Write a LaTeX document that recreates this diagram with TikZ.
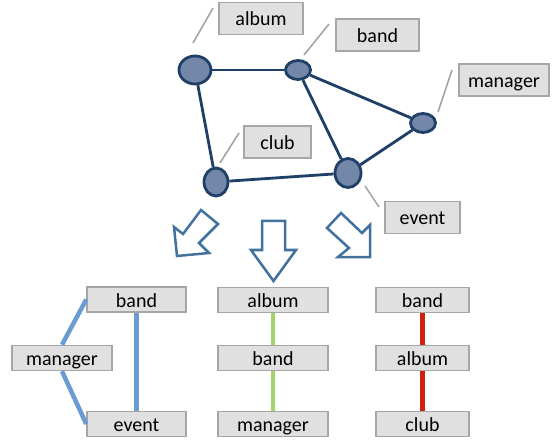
\documentclass[tikz,border=0pt]{standalone}
\usepackage{fontspec}
\setmainfont{Carlito}
\usetikzlibrary{shapes.geometric}
\definecolor{navy}{HTML}{1F3F66}
\definecolor{nodefill}{HTML}{7388A9}
\definecolor{boxfill}{HTML}{E0E0E0}
\definecolor{boxline}{HTML}{A6A6A6}
\definecolor{leadc}{HTML}{A0A0A0}
\definecolor{arrowc}{HTML}{41719C}
\definecolor{blueline}{HTML}{6A9BD2}
\definecolor{greenline}{HTML}{A2D46A}
\definecolor{redline}{HTML}{D22010}
\tikzset{
  gnode/.style={ellipse, draw=navy, fill=nodefill, line width=2.8pt, inner sep=0pt},
  gedge/.style={draw=navy, line width=2.8pt},
  lbl/.style={draw=boxline, fill=boxfill, line width=1.5pt, font=\fontsize{20}{24}\selectfont,
    inner sep=0pt, minimum height=32pt, text height=15pt, text depth=0pt},
  blbl/.style={lbl, minimum height=25pt},
  leadline/.style={draw=leadc, line width=1.5pt},
  bigarrow/.style={draw=arrowc, fill=white, line width=2.5pt, line join=miter},
  bluelink/.style={draw=blueline, line width=4.5pt},
  greenlink/.style={draw=greenline, line width=4.5pt},
  redlink/.style={draw=redline, line width=4.5pt}
}
\begin{document}
\begin{tikzpicture}[x=1pt,y=-1pt]
\useasboundingbox (0,0) rectangle (553,443);
% graph nodes
\node[gnode, minimum width=32pt, minimum height=28pt] (galbum) at (195,70) {};
\node[gnode, minimum width=25pt, minimum height=19pt] (gband) at (298,70) {};
\node[gnode, minimum width=25pt, minimum height=19pt] (gmanager) at (423,123) {};
\node[gnode, minimum width=26pt, minimum height=29pt] (gevent) at (348,173) {};
\node[gnode, minimum width=24pt, minimum height=28pt] (gclub) at (216,182) {};
\draw[gedge] (galbum) -- (gband);
\draw[gedge] (galbum) -- (gclub);
\draw[gedge] (gband) -- (gmanager);
\draw[gedge] (gband) -- (gevent);
\draw[gedge] (gmanager) -- (gevent);
\draw[gedge] (gclub) -- (gevent);
% labels
\node[lbl, minimum width=84pt] (lalbum) at (261,18.5) {album};
\node[lbl, minimum width=83pt] (lband) at (377.5,35) {band};
\node[lbl, minimum width=90pt] (lmanager) at (504,80) {manager};
\node[lbl, minimum width=67pt] (lclub) at (277.5,142) {club};
\node[lbl, minimum width=75pt] (levent) at (422.5,217.5) {event};
% leader lines
\coordinate (a1) at (213,8);   \coordinate (a2) at (193,43);
\coordinate (b1) at (329,24);  \coordinate (b2) at (304,55);
\coordinate (m1) at (452,70);  \coordinate (m2) at (438,112);
\coordinate (c1) at (239,133); \coordinate (c2) at (220,163);
\coordinate (e1) at (365,186); \coordinate (e2) at (379,207);
\draw[leadline] (a1) -- (a2);
\draw[leadline] (b1) -- (b2);
\draw[leadline] (m1) -- (m2);
\draw[leadline] (c1) -- (c2);
\draw[leadline] (e1) -- (e2);
% block arrows
\draw[bigarrow] (174,227) -- (183,234) -- (201,210) -- (218,224) -- (199,243) -- (209,253) -- (177,256) -- cycle;
\draw[bigarrow] (262,221) -- (285,221) -- (285,250) -- (296,250) -- (273.5,281) -- (251,250) -- (262,250) -- cycle;
\draw[bigarrow] (327,228) -- (341,213) -- (362,233) -- (370,225) -- (370,257) -- (338,257) -- (349,248) -- cycle;
% bottom left group
\node[blbl, minimum width=99pt] (lb1) at (136.5,299.5) {band};
\node[blbl, minimum width=100pt] (lm1) at (62,358) {manager};
\node[blbl, minimum width=99pt] (le1) at (136.5,424) {event};
\draw[bluelink] (lb1.south) -- (le1.north);
\draw[bluelink] (lm1.north) -- (lb1.west);
\draw[bluelink] (lm1.south) -- (le1.west);
% bottom middle group
\node[blbl, minimum width=110pt] (ma) at (273,300) {album};
\node[blbl, minimum width=110pt] (mb) at (273,358) {band};
\node[blbl, minimum width=110pt] (mm) at (273,424) {manager};
\draw[greenlink] (ma.south) -- (mb.north);
\draw[greenlink] (mb.south) -- (mm.north);
% bottom right group
\node[blbl, minimum width=93pt] (rb) at (422.5,300) {band};
\node[blbl, minimum width=93pt] (ra) at (422.5,358) {album};
\node[blbl, minimum width=93pt] (rc) at (422.5,424) {club};
\draw[redlink] (rb.south) -- (ra.north);
\draw[redlink] (ra.south) -- (rc.north);
\end{tikzpicture}
\end{document}
